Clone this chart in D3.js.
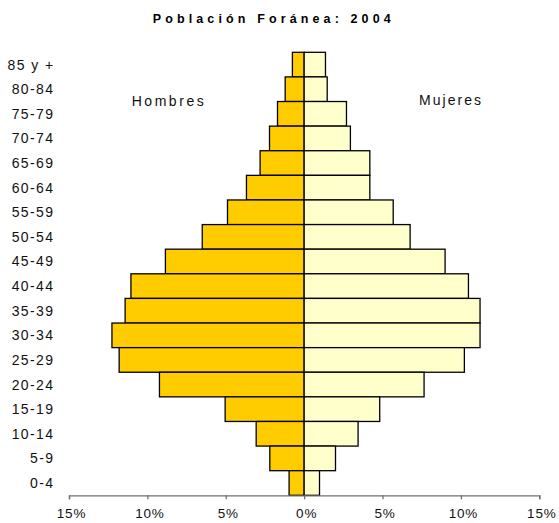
<!DOCTYPE html>
<html>
<head>
<meta charset="utf-8">
<script src="https://cdn.jsdelivr.net/npm/d3@7"></script>
<style>
  html, body { margin: 0; padding: 0; background: #fff; }
  svg { display: block; font-family: "Liberation Sans", Arial, sans-serif; }
</style>
</head>
<body>
<svg id="chart" width="559" height="523"></svg>
<script>
const ageGroups = ["85 y +","80-84","75-79","70-74","65-69","60-64","55-59","50-54","45-49","40-44","35-39","30-34","25-29","20-24","15-19","10-14","5-9","0-4"];
const hombres = [0.75,1.21,1.70,2.21,2.81,3.68,4.89,6.50,8.85,11.05,11.42,12.26,11.80,9.23,5.04,3.06,2.19,0.96];
const mujeres = [1.36,1.47,2.70,2.95,4.19,4.19,5.68,6.76,8.99,10.48,11.22,11.22,10.22,7.65,4.82,3.44,2.00,0.98];
const xTicks = [-15,-10,-5,0,5,10,15];
const titleText = "Población Foránea: 2004";

const svg = d3.select("#chart");
const x = d3.scaleLinear().domain([-15, 15]).range([69, 539.3]);
const y = d3.scaleBand().domain(ageGroups).range([52.3, 495.3]).padding(0);

// title
svg.append("text")
  .attr("x", 152.7).attr("y", 22.5)
  .attr("textLength", 238).attr("lengthAdjust", "spacing")
  .style("font-size", "12.5px").style("font-weight", "bold")
  .text(titleText);

// bars
const rows = ageGroups.map((g, i) => ({g, h: hombres[i], m: mujeres[i]}));
svg.append("g").selectAll("rect").data(rows).join("rect")
  .attr("x", d => x(-d.h)).attr("y", d => y(d.g))
  .attr("width", d => x(0) - x(-d.h)).attr("height", y.bandwidth())
  .attr("fill", "#FFCC00").attr("stroke", "#000").attr("stroke-width", 1.3);
svg.append("g").selectAll("rect").data(rows).join("rect")
  .attr("x", x(0)).attr("y", d => y(d.g))
  .attr("width", d => x(d.m) - x(0)).attr("height", y.bandwidth())
  .attr("fill", "#FFFFCC").attr("stroke", "#000").attr("stroke-width", 1.3);

// category labels
svg.append("g").selectAll("text").data(ageGroups).join("text")
  .attr("x", 54.5).attr("y", d => y(d) + y.bandwidth() / 2 + 5)
  .attr("text-anchor", "end")
  .attr("fill", "#111")
  .style("font-size", "14px").style("letter-spacing", "1.4px")
  .text(d => d);

// x axis
const axis = d3.axisBottom(x).tickValues(xTicks).tickSize(4)
  .tickFormat(d => Math.abs(d) + "%");
const ax = svg.append("g").attr("transform", `translate(0,${y.range()[1]})`).call(axis);
ax.select(".domain").attr("stroke", "#707070").attr("stroke-width", 1.3);
ax.selectAll(".tick line").attr("stroke", "#707070").attr("stroke-width", 1.3);
ax.selectAll(".tick text")
  .attr("y", 23).attr("dy", 0).attr("dx", 2)
  .attr("fill", "#111")
  .style("font-family", "'Liberation Sans', Arial, sans-serif")
  .style("font-size", "13.5px").style("letter-spacing", "0.8px");

// group labels
svg.append("text").attr("x", 131.7).attr("y", 106)
  .attr("textLength", 72).attr("lengthAdjust", "spacing")
  .attr("fill", "#111")
  .style("font-size", "14px").text("Hombres");
svg.append("text").attr("x", 419).attr("y", 104.5)
  .attr("textLength", 62).attr("lengthAdjust", "spacing")
  .attr("fill", "#111")
  .style("font-size", "14px").text("Mujeres");
</script>
</body>
</html>
